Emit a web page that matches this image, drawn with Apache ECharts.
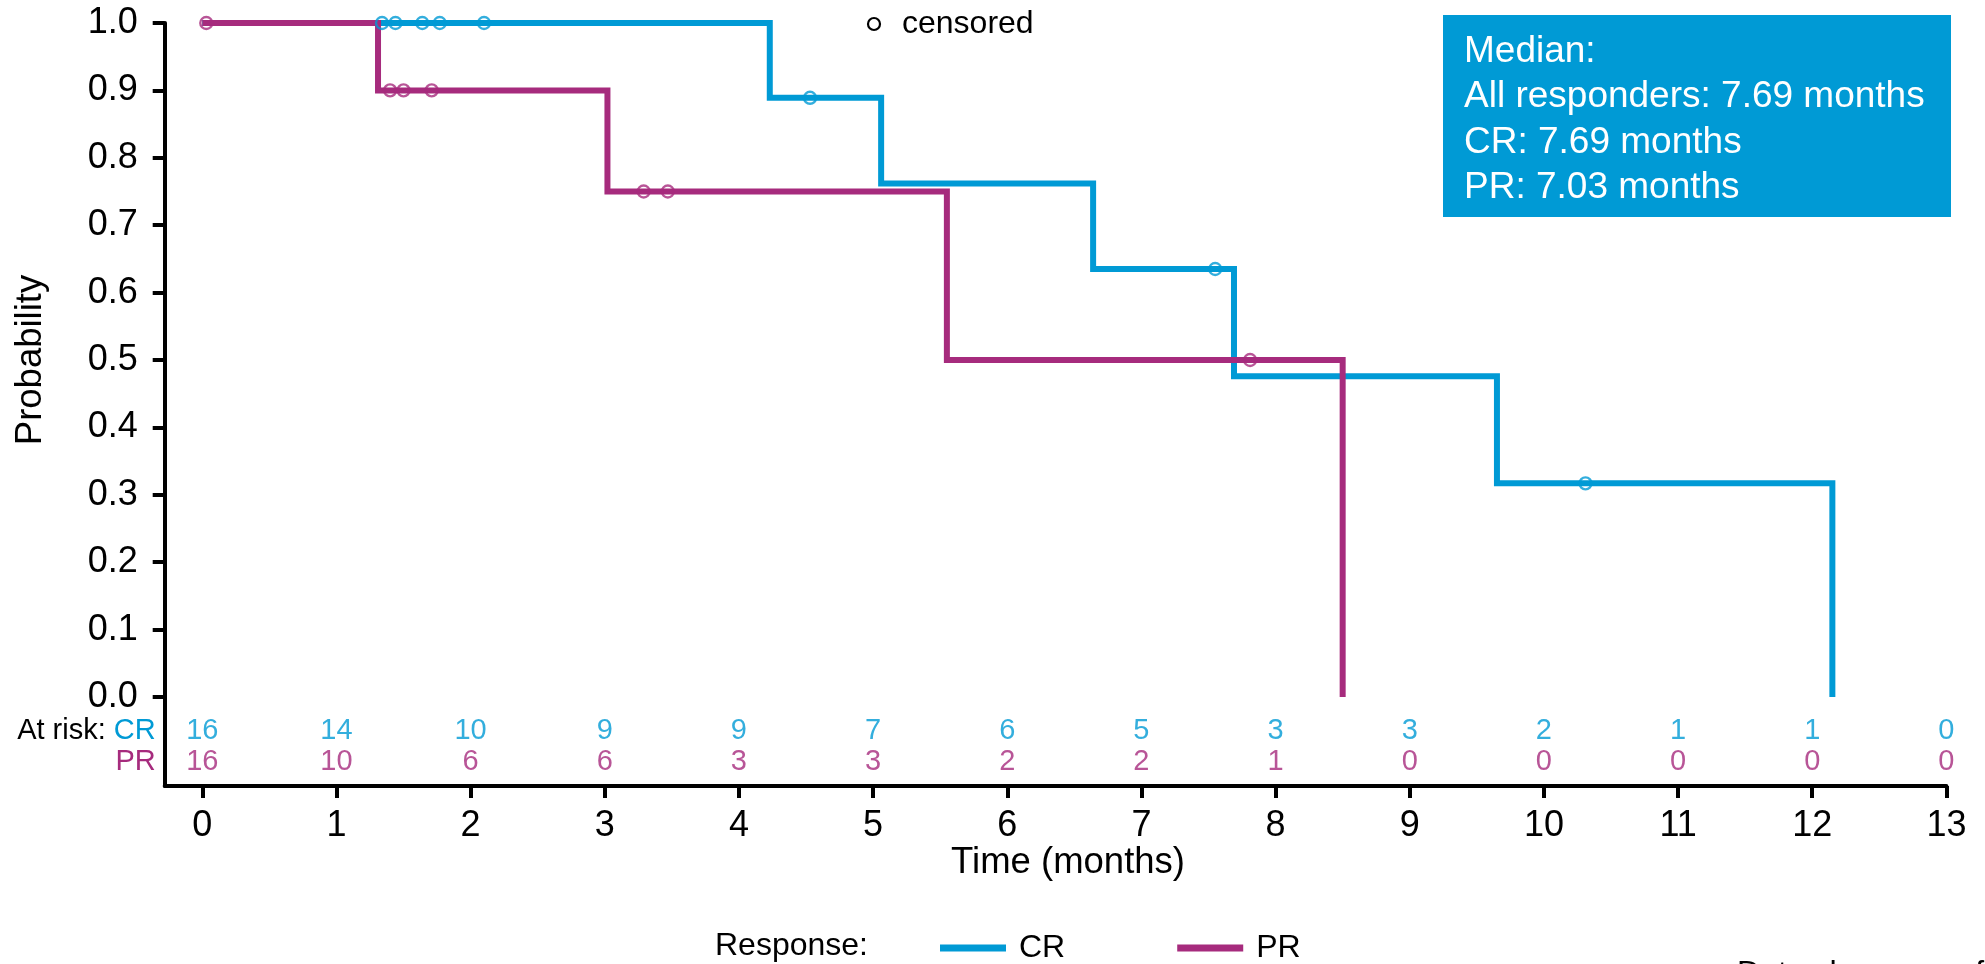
<!DOCTYPE html>
<html>
<head>
<meta charset="utf-8">
<script src="https://cdn.jsdelivr.net/npm/echarts@6/dist/echarts.min.js"></script>
<style>
html,body{margin:0;padding:0;background:#fff;}
#chart{width:1985px;height:964px;}
</style>
</head>
<body>
<div id="chart"></div>
<script>
// ---- data ----
const crTimes = [0, 4.23, 5.06, 6.64, 7.69, 9.65, 12.15];
const crSurv  = [1, 0.889, 0.762, 0.635, 0.476, 0.317, 0];
const prTimes = [0, 1.31, 3.02, 5.55, 8.50];
const prSurv  = [1, 0.9, 0.75, 0.5, 0];
const crCensorTimes = [1.34, 1.44, 1.64, 1.77, 2.10, 4.53, 7.55, 10.31];
const crCensorSurv  = [1, 1, 1, 1, 1, 0.889, 0.635, 0.317];
const prCensorTimes = [0.03, 1.40, 1.50, 1.71, 3.29, 3.47, 7.81];
const prCensorSurv  = [1, 0.9, 0.9, 0.9, 0.75, 0.75, 0.5];
const atRiskTimes = [0,1,2,3,4,5,6,7,8,9,10,11,12,13];
const crAtRisk = [16,14,10,9,9,7,6,5,3,3,2,1,1,0];
const prAtRisk = [16,10,6,6,3,3,2,2,1,0,0,0,0,0];
const seriesNames = ['CR', 'PR'];
const medianLines = ['Median:', 'All responders: 7.69 months', 'CR: 7.69 months', 'PR: 7.03 months'];

const BLUE = '#009AD5';
const MAG = '#A62B7D';
const FONT = '"Liberation Sans", Arial, Helvetica, sans-serif';

const pairs = (xs, ys) => xs.map((x, i) => [x, ys[i]]);
const riskRow = (vals, row) => vals.map((n, i) => [atRiskTimes[i], row, n]);

const axisLineStyle = {color: '#000', width: 4};

const option = {
  animation: false,
  backgroundColor: '#fff',
  textStyle: {fontFamily: FONT},
  grid: [
    {left: 164.7, right: 38.6, top: 23, height: 674, containLabel: false, outerBoundsMode: 'none'},
    {left: 164.7, right: 38.6, top: 697, height: 89, containLabel: false, outerBoundsMode: 'none'}
  ],
  xAxis: [
    {gridIndex: 0, type: 'value', min: -0.28, max: 13, show: false},
    {gridIndex: 1, type: 'value', min: -0.28, max: 13, position: 'bottom',
     axisLine: {show: true, onZero: false, lineStyle: axisLineStyle},
     axisTick: {show: true, customValues: atRiskTimes, length: 12, lineStyle: {color: '#000', width: 4}},
     axisLabel: {customValues: atRiskTimes, margin: 22, fontSize: 36, color: '#000', fontFamily: FONT},
     splitLine: {show: false},
     name: 'Time (months)', nameLocation: 'middle', nameGap: 57,
     nameTextStyle: {fontSize: 36.5, color: '#000', fontFamily: FONT, padding: [0, 0, 0, 25]}}
  ],
  yAxis: [
    {gridIndex: 0, type: 'value', min: 0, max: 1, interval: 0.1,
     axisLine: {show: true, onZero: false, lineStyle: axisLineStyle},
     axisTick: {show: true, length: 12, lineStyle: {color: '#000', width: 4}},
     axisLabel: {formatter: v => v.toFixed(1), fontSize: 36, margin: 27, color: '#000', fontFamily: FONT},
     splitLine: {show: false},
     name: 'Probability', nameLocation: 'middle', nameGap: 115,
     nameTextStyle: {fontSize: 36.5, color: '#000', fontFamily: FONT}},
    {gridIndex: 1, type: 'value', inverse: true, min: -1.08, max: 1.76,
     axisLine: {show: true, onZero: false, lineStyle: axisLineStyle},
     axisTick: {show: false},
     splitLine: {show: false},
     axisLabel: {customValues: [0, 1], margin: 9,
       formatter: v => v === 0 ? '{k|At risk: }{c|' + seriesNames[0] + '}' : '{p|' + seriesNames[1] + '}',
       rich: {
         k: {fontSize: 29, color: '#000', fontFamily: FONT},
         c: {fontSize: 29, color: BLUE, fontFamily: FONT},
         p: {fontSize: 29, color: MAG, fontFamily: FONT}
       }}}
  ],
  legend: {
    data: seriesNames, left: 935, top: 925, icon: 'rect', itemWidth: 66, itemHeight: 7, itemGap: 112,
    textStyle: {fontSize: 32, color: '#000', fontFamily: FONT, padding: [0, 0, 0, 8], lineHeight: 36},
    selectedMode: false
  },
  series: [
    {name: seriesNames[0], type: 'line', xAxisIndex: 0, yAxisIndex: 0, step: 'end', showSymbol: false, symbol: 'none',
     clip: false, z: 2, data: pairs(crTimes, crSurv), lineStyle: {color: BLUE, width: 6, join: 'miter'}, itemStyle: {color: BLUE}},
    {name: seriesNames[1], type: 'line', xAxisIndex: 0, yAxisIndex: 0, step: 'end', showSymbol: false, symbol: 'none',
     clip: false, z: 3, data: pairs(prTimes, prSurv), lineStyle: {color: MAG, width: 6, join: 'miter'}, itemStyle: {color: MAG}},
    {name: 'CR censored', type: 'scatter', xAxisIndex: 0, yAxisIndex: 0, clip: false, z: 4,
     symbol: 'circle', symbolSize: 12, data: pairs(crCensorTimes, crCensorSurv),
     itemStyle: {color: 'rgba(0,0,0,0)', borderColor: BLUE, borderWidth: 2.4}},
    {name: 'PR censored', type: 'scatter', xAxisIndex: 0, yAxisIndex: 0, clip: false, z: 4,
     symbol: 'circle', symbolSize: 12, data: pairs(prCensorTimes, prCensorSurv),
     itemStyle: {color: 'rgba(0,0,0,0)', borderColor: MAG, borderWidth: 2.4}},
    {name: 'CR at risk', type: 'scatter', xAxisIndex: 1, yAxisIndex: 1, symbolSize: 1, clip: false,
     data: riskRow(crAtRisk, 0), itemStyle: {color: 'rgba(0,0,0,0)'},
     label: {show: true, position: 'inside', formatter: p => String(p.value[2]), fontSize: 29, color: BLUE, fontFamily: FONT}},
    {name: 'PR at risk', type: 'scatter', xAxisIndex: 1, yAxisIndex: 1, symbolSize: 1, clip: false,
     data: riskRow(prAtRisk, 1), itemStyle: {color: 'rgba(0,0,0,0)'},
     label: {show: true, position: 'inside', formatter: p => String(p.value[2]), fontSize: 29, color: MAG, fontFamily: FONT}}
  ],
  graphic: [
    {type: 'rect', shape: {x: 1443, y: 15, width: 508, height: 202}, style: {fill: BLUE}, z: 10},
    {type: 'text', x: 1464, y: 29, z: 11,
     style: {text: medianLines.join('\n'), fill: '#fff', fontSize: 37, fontFamily: FONT, lineHeight: 45.5, verticalAlign: 'top'}},
    {type: 'circle', shape: {cx: 874, cy: 24, r: 6}, style: {fill: 'none', stroke: '#000', lineWidth: 2.2}, z: 10},
    {type: 'text', x: 902, y: 24, z: 10,
     style: {text: 'censored', fill: '#000', fontSize: 32, fontFamily: FONT, verticalAlign: 'middle'}},
    {type: 'text', x: 715, y: 946, z: 10,
     style: {text: 'Response:', fill: '#000', fontSize: 32, fontFamily: FONT, verticalAlign: 'middle'}},
    {type: 'text', x: 1737, y: 958, z: 10,
     style: {text: 'Data shown as of', fill: '#000', fontSize: 32, fontFamily: FONT, verticalAlign: 'top'}}
  ]
};

const chart = echarts.init(document.getElementById('chart'), null, {renderer: 'canvas'});
chart.setOption(option);
</script>
</body>
</html>
